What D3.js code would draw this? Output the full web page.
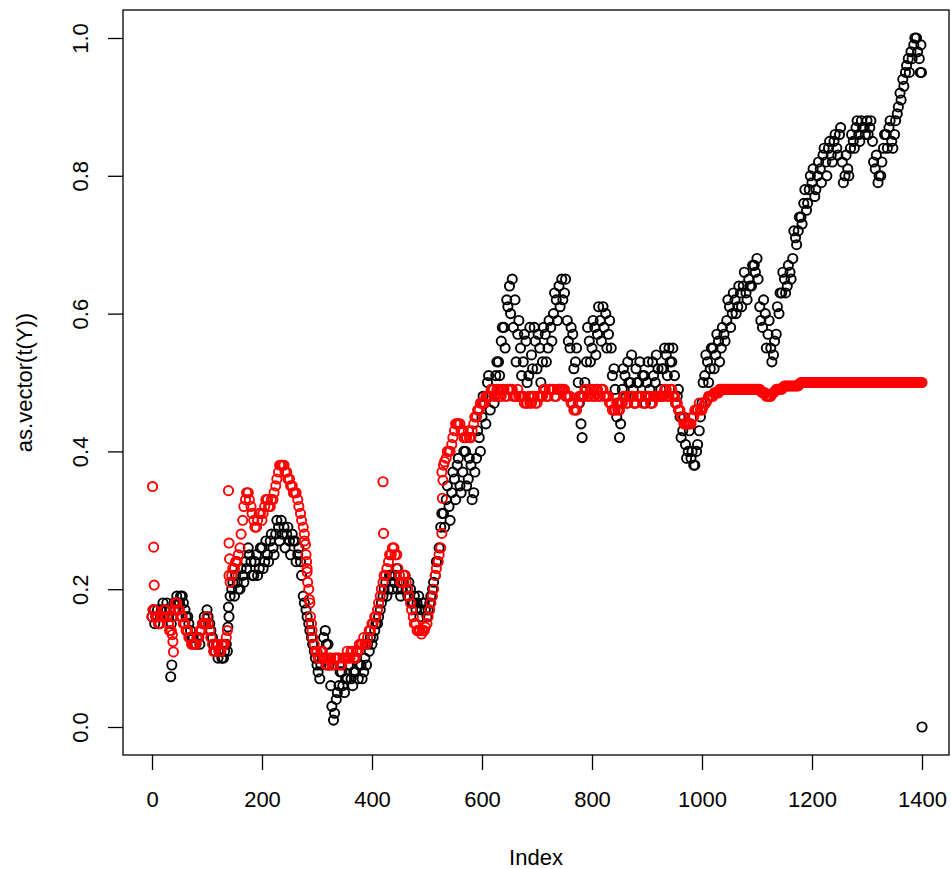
<!DOCTYPE html>
<html>
<head>
<meta charset="utf-8">
<script src="https://cdn.jsdelivr.net/npm/d3@7"></script>
<style>
    body { margin: 0; background: #fff; }
    text { font-family: "Liberation Sans", Arial, sans-serif; }
</style>
</head>
<body>
<div id="chart"></div>
<script>
// indices are read every 5 steps: one pass at 0,5,10..1400 and one at 2,7,12..1397
var step = 5;

// as.vector(t(Y)) at 0,5,10 .. 1400
var blackY = [
    0.16,0.15,0.17,0.16,0.18,0.17,0.16,0.15,0.18,0.19,0.18,0.19,0.17,0.16,0.14,0.13,0.12,0.13,0.14,0.16,
    0.17,0.15,0.13,0.11,0.10,0.11,0.10,0.12,0.16,0.20,0.19,0.21,0.20,0.22,0.24,0.26,0.24,0.22,0.25,0.23,
    0.26,0.24,0.25,0.27,0.26,0.28,0.29,0.30,0.29,0.28,0.27,0.28,0.27,0.25,0.24,0.19,0.17,0.15,0.13,0.11,
    0.09,0.07,0.10,0.14,0.12,0.06,0.01,0.04,0.06,0.08,0.05,0.07,0.09,0.06,0.08,0.07,0.09,0.08,0.09,0.11,
    0.12,0.14,0.15,0.17,0.19,0.21,0.20,0.22,0.21,0.23,0.21,0.20,0.22,0.19,0.20,0.18,0.17,0.19,0.17,0.18,
    0.16,0.18,0.20,0.22,0.24,0.29,0.31,0.33,0.32,0.34,0.36,0.38,0.35,0.37,0.40,0.36,0.38,0.34,0.39,0.42,
    0.45,0.47,0.50,0.46,0.49,0.51,0.53,0.56,0.58,0.62,0.64,0.65,0.62,0.57,0.55,0.53,0.56,0.51,0.54,0.58,
    0.52,0.55,0.53,0.57,0.55,0.58,0.60,0.62,0.64,0.65,0.63,0.59,0.55,0.57,0.53,0.50,0.44,0.48,0.53,0.56,
    0.55,0.58,0.57,0.59,0.61,0.60,0.57,0.55,0.52,0.45,0.42,0.49,0.51,0.53,0.50,0.49,0.52,0.50,0.48,0.51,
    0.50,0.49,0.53,0.50,0.52,0.49,0.52,0.54,0.55,0.53,0.51,0.48,0.45,0.43,0.41,0.40,0.39,0.38,0.40,0.43,
    0.47,0.51,0.53,0.52,0.55,0.54,0.56,0.55,0.57,0.59,0.61,0.60,0.62,0.61,0.63,0.64,0.63,0.65,0.64,0.67,
    0.68,0.61,0.58,0.60,0.57,0.55,0.54,0.57,0.60,0.63,0.65,0.64,0.66,0.68,0.71,0.72,0.74,0.76,0.75,0.78,
    0.79,0.77,0.80,0.81,0.83,0.82,0.84,0.83,0.85,0.84,0.86,0.82,0.80,0.81,0.84,0.85,0.87,0.86,0.88,0.87,
    0.88,0.87,0.85,0.81,0.79,0.80,0.84,0.86,0.87,0.85,0.86,0.89,0.92,0.94,0.95,0.97,0.98,0.99,1.00,0.97,
    0.00
];

// as.vector(t(Y)) at 2,7,12 .. 1397
var blackY2 = [
    0.17,0.16,0.15,0.17,0.16,0.18,0.17,0.16,0.17,0.18,0.19,0.18,0.16,0.15,0.13,0.12,0.13,0.12,0.15,0.15,
    0.16,0.14,0.12,0.12,0.11,0.10,0.11,0.11,0.19,0.21,0.22,0.20,0.23,0.21,0.23,0.25,0.22,0.24,0.22,0.26,
    0.23,0.27,0.24,0.28,0.25,0.30,0.27,0.28,0.26,0.29,0.25,0.27,0.24,0.26,0.22,0.18,0.16,0.14,0.12,0.10,
    0.08,0.09,0.13,0.12,0.09,0.03,0.02,0.05,0.08,0.06,0.07,0.09,0.07,0.08,0.10,0.09,0.07,0.10,0.12,0.13,
    0.13,0.15,0.16,0.18,0.20,0.19,0.22,0.20,0.22,0.20,0.19,0.21,0.20,0.21,0.18,0.19,0.18,0.16,0.18,0.17,
    0.17,0.19,0.21,0.24,0.26,0.31,0.29,0.35,0.30,0.37,0.33,0.39,0.34,0.40,0.35,0.39,0.33,0.37,0.43,0.40,
    0.48,0.44,0.51,0.49,0.47,0.53,0.51,0.58,0.55,0.61,0.60,0.58,0.53,0.59,0.51,0.57,0.50,0.58,0.52,0.56,
    0.57,0.50,0.58,0.53,0.59,0.56,0.63,0.59,0.61,0.62,0.65,0.56,0.58,0.52,0.55,0.47,0.42,0.50,0.58,0.53,
    0.59,0.54,0.61,0.56,0.58,0.55,0.59,0.51,0.49,0.47,0.44,0.52,0.48,0.50,0.54,0.47,0.50,0.53,0.51,0.47,
    0.53,0.47,0.51,0.54,0.48,0.52,0.55,0.51,0.53,0.55,0.47,0.49,0.42,0.45,0.39,0.43,0.40,0.38,0.41,0.45,
    0.50,0.54,0.50,0.55,0.52,0.57,0.53,0.58,0.56,0.62,0.58,0.63,0.60,0.64,0.61,0.66,0.62,0.64,0.67,0.66,
    0.65,0.59,0.62,0.55,0.59,0.53,0.56,0.61,0.63,0.66,0.63,0.67,0.65,0.72,0.70,0.74,0.73,0.78,0.76,0.80,
    0.81,0.78,0.82,0.79,0.84,0.80,0.85,0.82,0.86,0.83,0.87,0.79,0.83,0.80,0.86,0.84,0.88,0.85,0.87,0.86,
    0.86,0.88,0.82,0.83,0.80,0.82,0.86,0.84,0.88,0.84,0.88,0.90,0.91,0.93,0.96,0.95,0.97,1.00,0.98,0.95
];

// second series (red) at 0,5,10 .. 1400
var redY = [
    0.16,0.17,0.16,0.15,0.16,0.17,0.15,0.14,0.17,0.18,0.17,0.16,0.15,0.14,0.13,0.12,0.12,0.13,0.14,0.15,
    0.16,0.14,0.12,0.11,0.12,0.11,0.12,0.13,0.22,0.22,0.23,0.24,0.26,0.30,0.33,0.34,0.32,0.30,0.29,0.31,
    0.30,0.32,0.33,0.32,0.33,0.35,0.37,0.38,0.38,0.37,0.36,0.35,0.34,0.33,0.31,0.29,0.25,0.20,0.15,0.12,
    0.11,0.10,0.11,0.10,0.09,0.10,0.09,0.10,0.10,0.09,0.10,0.11,0.10,0.11,0.10,0.11,0.12,0.13,0.12,0.14,
    0.15,0.16,0.17,0.19,0.21,0.22,0.24,0.25,0.26,0.25,0.22,0.21,0.22,0.20,0.18,0.16,0.15,0.14,0.135,0.14,
    0.15,0.17,0.19,0.22,0.24,0.26,0.38,0.39,0.40,0.41,0.43,0.44,0.44,0.43,0.42,0.43,0.42,0.44,0.45,0.46,
    0.47,0.47,0.48,0.48,0.49,0.48,0.49,0.48,0.49,0.48,0.49,0.49,0.48,0.49,0.48,0.48,0.47,0.48,0.47,0.48,
    0.47,0.48,0.48,0.49,0.48,0.49,0.49,0.48,0.49,0.49,0.49,0.48,0.48,0.47,0.46,0.47,0.48,0.48,0.49,0.48,
    0.49,0.48,0.49,0.48,0.49,0.48,0.48,0.47,0.46,0.47,0.46,0.47,0.48,0.47,0.48,0.48,0.47,0.48,0.48,0.47,
    0.48,0.48,0.47,0.48,0.48,0.48,0.48,0.49,0.48,0.49,0.48,0.47,0.46,0.45,0.44,0.44,0.44,0.45,0.46,0.47,
    0.46,0.47,0.475,0.48,0.48,0.485,0.485,0.49,0.49,0.49,0.49,0.49,0.49,0.49,0.49,0.49,0.49,0.49,0.49,0.49,
    0.49,0.49,0.485,0.485,0.48,0.48,0.485,0.49,0.49,0.49,0.495,0.495,0.495,0.495,0.495,0.495,0.5,0.5,0.5,0.5,
    0.5,0.5,0.5,0.5,0.5,0.5,0.5,0.5,0.5,0.5,0.5,0.5,0.5,0.5,0.5,0.5,0.5,0.5,0.5,0.5,
    0.5,0.5,0.5,0.5,0.5,0.5,0.5,0.5,0.5,0.5,0.5,0.5,0.5,0.5,0.5,0.5,0.5,0.5,0.5,0.5,
    0.5
];

// second series (red) at 2,7,12 .. 1397
var redY2 = [
    0.17,0.16,0.15,0.16,0.17,0.16,0.14,0.16,0.18,0.17,0.16,0.15,0.14,0.13,0.12,0.12,0.13,0.14,0.15,0.15,
    0.15,0.13,0.11,0.12,0.11,0.12,0.12,0.14,0.21,0.23,0.24,0.25,0.28,0.32,0.34,0.33,0.31,0.29,0.30,0.31,
    0.31,0.33,0.32,0.33,0.34,0.36,0.38,0.38,0.37,0.36,0.35,0.34,0.34,0.32,0.30,0.27,0.23,0.18,0.13,0.11,
    0.10,0.11,0.10,0.09,0.10,0.09,0.10,0.10,0.09,0.10,0.10,0.10,0.11,0.10,0.11,0.12,0.12,0.12,0.13,0.14,
    0.15,0.16,0.18,0.20,0.22,0.23,0.25,0.26,0.25,0.23,0.21,0.22,0.21,0.19,0.17,0.15,0.14,0.14,0.14,0.145,
    0.16,0.18,0.20,0.23,0.25,0.37,0.385,0.40,0.40,0.42,0.44,0.44,0.43,0.42,0.42,0.42,0.43,0.45,0.46,0.47,
    0.47,0.48,0.48,0.49,0.48,0.49,0.48,0.49,0.48,0.49,0.49,0.48,0.48,0.48,0.48,0.47,0.47,0.47,0.48,0.47,
    0.48,0.48,0.49,0.48,0.49,0.49,0.48,0.49,0.49,0.49,0.48,0.48,0.47,0.46,0.46,0.48,0.48,0.49,0.48,0.49,
    0.48,0.49,0.48,0.49,0.48,0.48,0.47,0.46,0.46,0.46,0.47,0.48,0.47,0.48,0.48,0.47,0.48,0.48,0.47,0.48,
    0.48,0.47,0.48,0.48,0.48,0.48,0.49,0.48,0.49,0.48,0.47,0.46,0.45,0.44,0.44,0.44,0.45,0.46,0.46,0.46,
    0.465,0.47,0.48,0.48,0.485,0.485,0.49,0.49,0.49,0.49,0.49,0.49,0.49,0.49,0.49,0.49,0.49,0.49,0.49,0.49,
    0.49,0.487,0.485,0.48,0.48,0.483,0.487,0.49,0.49,0.493,0.495,0.495,0.495,0.495,0.495,0.498,0.5,0.5,0.5,0.5,
    0.5,0.5,0.5,0.5,0.5,0.5,0.5,0.5,0.5,0.5,0.5,0.5,0.5,0.5,0.5,0.5,0.5,0.5,0.5,0.5,
    0.5,0.5,0.5,0.5,0.5,0.5,0.5,0.5,0.5,0.5,0.5,0.5,0.5,0.5,0.5,0.5,0.5,0.5,0.5,0.5
];

// points in between (outliers and steep parts)
var blackExtraIdx = [34, 36, 138, 139, 1398, 1399];
var blackExtraVal = [0.073, 0.09, 0.145, 0.174, 0.99, 0.95];
var redExtraIdx = [1, 3, 4, 37, 38, 39, 139, 140, 141, 277, 279, 281, 282, 283, 286, 288, 291, 420, 421, 527, 528, 529];
var redExtraVal = [0.349, 0.261, 0.206, 0.134, 0.124, 0.109, 0.343, 0.267, 0.244, 0.28, 0.265, 0.24, 0.225, 0.21, 0.185, 0.16, 0.14, 0.356, 0.281, 0.281, 0.332, 0.358];

var xTicks = [0, 200, 400, 600, 800, 1000, 1200, 1400];
var yTicks = [0, 0.2, 0.4, 0.6, 0.8, 1.0];

function init() {
    scatter();
}

function toPoints(idx, vals) {
    var pts = [];
    for (var i = 0; i < vals.length; i++) {
        pts.push({ i: idx[i], v: vals[i] });
    }
    return pts;
}

function scatter() {
    var w = 951;
    var h = 869;
    var left = 123, right = 949, top = 10, bottom = 755;

    var idx = d3.range(0, 1401, step);
    var idx2 = d3.range(2, 1400, step);

    var black = toPoints(idx, blackY)
        .concat(toPoints(idx2, blackY2))
        .concat(toPoints(blackExtraIdx, blackExtraVal));
    var red = toPoints(idx, redY)
        .concat(toPoints(idx2, redY2))
        .concat(toPoints(redExtraIdx, redExtraVal));
    // draw in index order, as R does
    black.sort(function (a, b) { return a.i - b.i; });
    red.sort(function (a, b) { return a.i - b.i; });

    var x = d3.scaleLinear().domain([0, 1400]).range([152, 922]);
    var y = d3.scaleLinear().domain([0, 1]).range([727, 38]);

    var svg = d3.select("#chart")
        .append("svg")
        .attr("width", w)
        .attr("height", h)
        .style("display", "block");

    svg.append("rect")
        .attr("width", w)
        .attr("height", h)
        .attr("fill", "#fff");

    svg.append("g").selectAll("circle")
        .data(black)
        .enter()
        .append("circle")
        .attr("cx", function (d) { return x(d.i); })
        .attr("cy", function (d) { return y(d.v); })
        .attr("r", 4.6)
        .attr("fill", "none")
        .attr("stroke", "#000")
        .attr("stroke-width", 1.9);

    svg.append("g").selectAll("circle")
        .data(red)
        .enter()
        .append("circle")
        .attr("cx", function (d) { return x(d.i); })
        .attr("cy", function (d) { return y(d.v); })
        .attr("r", 4.6)
        .attr("fill", "none")
        .attr("stroke", "#ff0000")
        .attr("stroke-width", 1.9);

    // box
    svg.append("rect")
        .attr("x", left)
        .attr("y", top)
        .attr("width", right - left)
        .attr("height", bottom - top)
        .attr("fill", "none")
        .attr("stroke", "#000")
        .attr("stroke-width", 1.3);

    var xAxis = svg.append("g")
        .attr("transform", "translate(0," + bottom + ")")
        .call(d3.axisBottom(x).tickValues(xTicks).tickSize(15).tickFormat(d3.format("d")));
    xAxis.select(".domain").remove();
    xAxis.selectAll("line").attr("stroke", "#000").attr("stroke-width", 1.3);
    xAxis.selectAll("text")
        .attr("y", 52)
        .attr("dy", null)
        .attr("fill", "#000")
        .style("font-size", "22px");

    var yAxis = svg.append("g")
        .attr("transform", "translate(" + left + ",0)")
        .call(d3.axisLeft(y).tickValues(yTicks).tickSize(15).tickFormat(d3.format(".1f")));
    yAxis.select(".domain").remove();
    yAxis.selectAll("line").attr("stroke", "#000").attr("stroke-width", 1.3);
    yAxis.selectAll("text")
        .attr("x", null)
        .attr("dy", null)
        .attr("text-anchor", "middle")
        .attr("transform", "translate(-35,0) rotate(-90)")
        .attr("fill", "#000")
        .style("font-size", "22px");

    svg.append("text")
        .attr("x", (left + right) / 2)
        .attr("y", 865)
        .attr("text-anchor", "middle")
        .style("font-size", "22px")
        .text("Index");

    svg.append("text")
        .attr("transform", "translate(32," + ((top + bottom) / 2) + ") rotate(-90)")
        .attr("text-anchor", "middle")
        .style("font-size", "22px")
        .text("as.vector(t(Y))");
}

window.onload = init;
</script>
</body>
</html>
